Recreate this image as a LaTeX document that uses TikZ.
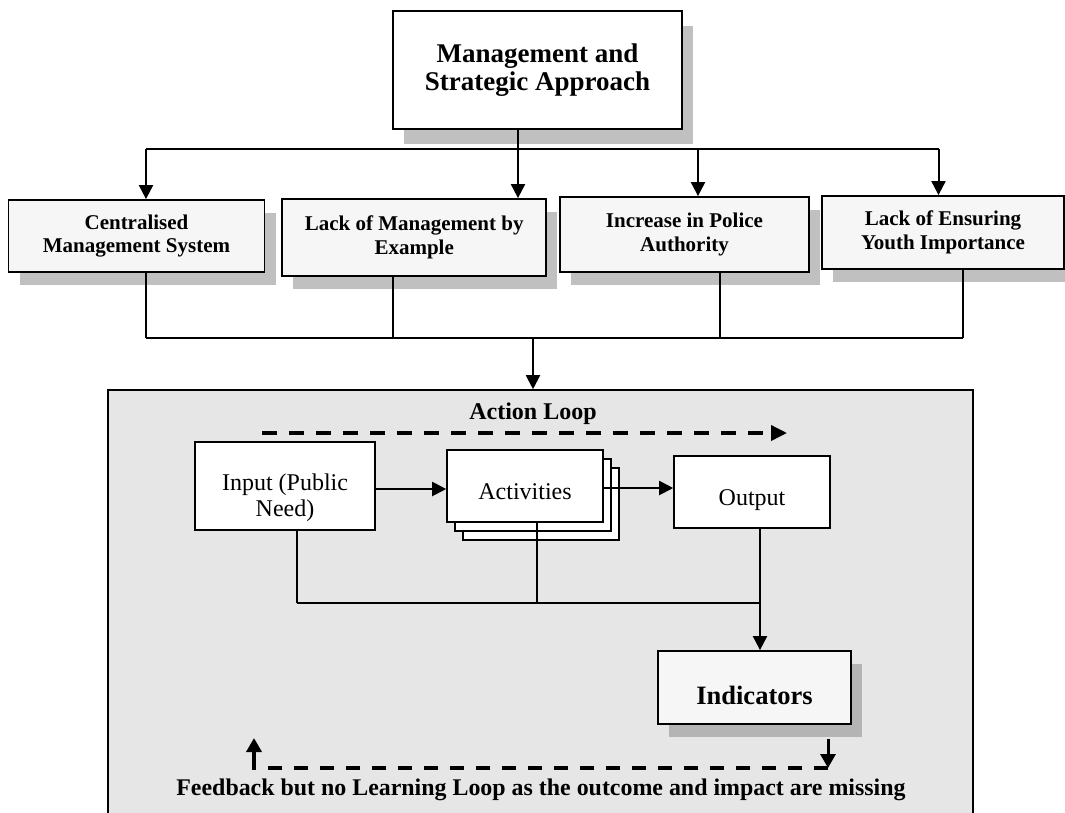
\documentclass[tikz,border=0pt]{standalone}
\usepackage{fontspec}
\setmainfont{Liberation Serif}
\usetikzlibrary{arrows.meta,shadows}
\definecolor{boxfill}{HTML}{F6F6F6}
\definecolor{shadowgray}{HTML}{C0C0C0}
\definecolor{panelfill}{HTML}{E6E6E6}
\definecolor{indshadow}{HTML}{B4B4B4}
\begin{document}
\begin{tikzpicture}[x=1pt,y=-1pt,
  shadowed/.style={drop shadow={shadow xshift=11pt,shadow yshift=-13pt,fill=shadowgray,opacity=1}},
  topbox/.style={draw,line width=1.8pt,fill=white,inner sep=0pt,align=center,
    font=\fontsize{27}{28}\selectfont\bfseries,
    drop shadow={shadow xshift=11pt,shadow yshift=-15pt,fill=shadowgray,opacity=1}},
  causebox/.style={draw,line width=1.8pt,fill=boxfill,inner sep=0pt,align=center,
    font=\fontsize{21}{23.5}\selectfont\bfseries,shadowed},
  stepbox/.style={draw,line width=1.6pt,fill=white,inner sep=0pt,align=center,
    font=\fontsize{24}{26}\selectfont},
  steptext/.style={inner sep=0pt,align=center,font=\fontsize{24}{26}\selectfont},
  indbox/.style={draw,line width=1.8pt,fill=boxfill,inner sep=0pt,align=center,
    font=\fontsize{26.5}{28}\selectfont\bfseries,
    drop shadow={shadow xshift=11pt,shadow yshift=-13pt,fill=indshadow,opacity=1}},
  tip/.style={-{Triangle[length=14pt,width=14pt]}},
  arr/.style={tip,line width=2pt},
  thinline/.style={line width=1.3pt},
  loopdash/.style={line width=3.5pt,dash pattern=on 15pt off 12pt},
]
\useasboundingbox (0,0) rectangle (1065,812);

% outer panel holding the action loop (its lower edge runs past the page)
\node[draw,line width=1.6pt,fill=panelfill,minimum width=865pt,minimum height=428pt,inner sep=0pt]
  (panel) at (540.5,604) {};

% top level and the four causes
\node[topbox,minimum width=289pt,minimum height=118pt] (top) at (537.5,70)
  {Management and\\Strategic Approach};
\node[causebox,minimum width=256pt,minimum height=72pt] (c1) at (136.5,236)
  {Centralised\\Management System};
\node[causebox,minimum width=264pt,minimum height=77pt] (c2) at (414.2,237.5)
  {Lack of Management by\\Example};
\node[causebox,minimum width=249pt,minimum height=75pt] (c3) at (684.5,234.5)
  {Increase in Police\\Authority};
\node[causebox,minimum width=242pt,minimum height=73pt] (c4) at (943,232.5)
  {Lack of Ensuring\\Youth Importance};

% distribution from the top box
\coordinate (tj) at (518,149);
\coordinate (hl) at (146,149);
\coordinate (hm) at (698,149);
\coordinate (hr) at (938.5,149);
\draw[line width=2pt] (top.south -| tj) -- (tj);
\draw[line width=2pt] (hl) -- (hr);
\draw[arr] (tj) -- (tj |- c2.north);
\draw[arr] (hl) -- (hl |- c1.north);
\draw[arr] (hm) -- (hm |- c3.north);
\draw[arr] (hr) -- (hr |- c4.north);

% collection into the panel
\coordinate (d1) at (146,338);
\coordinate (d2) at (393,338);
\coordinate (d3) at (720,338);
\coordinate (d4) at (963,338);
\coordinate (dm) at (533,338);
\draw[thinline] (c1.south -| d1) -- (d1);
\draw[thinline] (c2.south -| d2) -- (d2);
\draw[thinline] (c3.south -| d3) -- (d3);
\draw[thinline] (c4.south -| d4) -- (d4);
\draw[thinline] (d1) -- (d4);
\draw[arr] (dm) -- (dm |- panel.north);

% action loop
\node[font=\fontsize{24}{26}\selectfont\bfseries] (al) at (533,414) {Action Loop};
\coordinate (al0) at (262,433);
\coordinate (al1) at (787,433);
\draw[loopdash,-{Triangle[length=16pt,width=15pt]}] (al0) -- (al1);

\node[stepbox,minimum width=180pt,minimum height=88pt] (inp) at (285,486) {};
\node[steptext] (inptext) at (285,497.5) {Input (Public\\Need)};
\node[stepbox,minimum width=156pt,minimum height=72pt] (act3) at (541,504) {};
\node[stepbox,minimum width=156pt,minimum height=72pt] (act2) at (533,495) {};
\node[stepbox,minimum width=156pt,minimum height=72pt,text height=26pt,text depth=0pt]
  (act) at (525,486) {Activities};
\node[stepbox,minimum width=156pt,minimum height=72pt,text height=26pt,text depth=0pt]
  (out) at (752,492) {Output};

\coordinate (ar1) at (0,489);
\coordinate (ar2) at (0,488);
\draw[arr] (inp.east |- ar1) -- (act.west |- ar1);
\draw[arr] (act.east |- ar2) -- (out.west |- ar2);

\node[indbox,minimum width=193pt,minimum height=73pt,text height=33pt,text depth=0pt]
  (ind) at (754.5,687.5) {Indicators};

\coordinate (b1) at (297,603);
\coordinate (b2) at (537,603);
\coordinate (b3) at (760,603);
\draw[thinline] (inp.south -| b1) -- (b1);
\draw[thinline] (act.south -| b2) -- (b2);
\draw[thinline] (b1) -- (b3);
\draw[arr] (out.south -| b3) -- (b3) -- (b3 |- ind.north);

% feedback path
\coordinate (fr0) at (828,739);
\coordinate (fr1) at (828,768);
\coordinate (fl1) at (254,768);
\coordinate (fl0) at (254,738);
\draw[line width=3pt,-{Triangle[length=14pt,width=15pt]}] (fr0) -- (fr1);
\draw[loopdash,dash pattern=on 14pt off 12pt] (fr1) -- (fl1);
\draw[line width=3.5pt,line cap=rect,-{Triangle[length=14pt,width=15pt]}] (fl1) -- (fl0);
\node[font=\fontsize{23.9}{26}\selectfont\bfseries] (fb) at (541,790)
  {Feedback but no Learning Loop as the outcome and impact are missing};
\end{tikzpicture}
\end{document}
